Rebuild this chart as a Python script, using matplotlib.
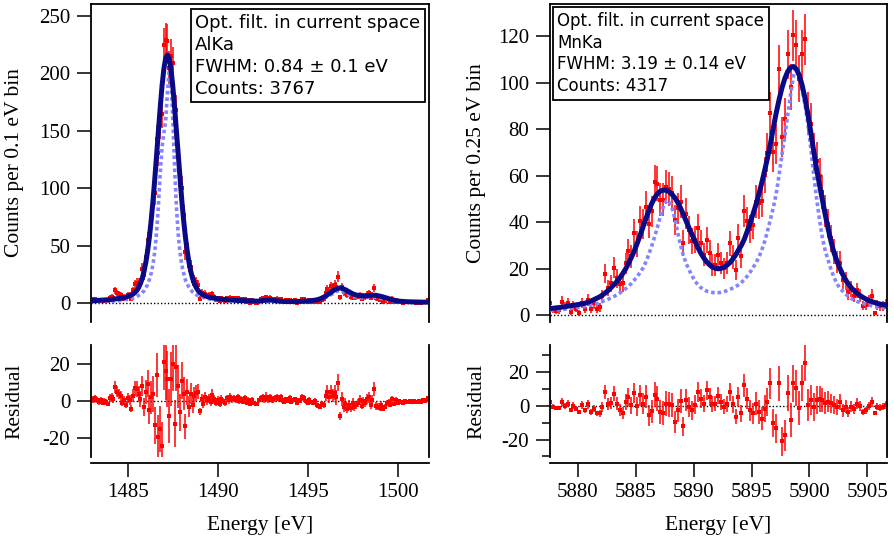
import numpy as np
import matplotlib
matplotlib.use('Agg')
import matplotlib.pyplot as plt

plt.rcParams['font.family'] = 'Liberation Serif'
plt.rcParams['axes.unicode_minus'] = False

# %% AlKa, 0.1 eV bins
al_energy = np.round(np.arange(1483.0, 1501.75, 0.1), 2)
al_fit = [
    2.0, 2.0, 2.1, 2.2, 2.3, 2.4, 2.5, 2.6, 2.7, 2.8,
    3.0, 3.1, 3.3, 3.5, 3.7, 3.9, 4.2, 4.4, 4.7, 5.2,
    5.6, 6.2, 7.0, 7.9, 9.2, 11.0, 13.5, 16.9, 21.4, 27.5,
    35.3, 45.3, 57.6, 72.4, 89.4, 108.5, 129.0, 150.0, 170.4, 188.8,
    203.5, 213.0, 216.0, 213.0, 203.5, 188.8, 170.4, 150.0, 129.0, 108.5,
    89.4, 72.4, 57.6, 45.3, 35.3, 27.5, 21.4, 16.9, 13.5, 11.0,
    9.2, 7.9, 7.0, 6.2, 5.6, 5.2, 4.7, 4.4, 4.2, 3.9,
    3.7, 3.5, 3.3, 3.1, 3.0, 2.8, 2.7, 2.6, 2.5, 2.4,
    2.3, 2.2, 2.1, 2.0, 2.0, 1.9, 1.9, 1.8, 1.8, 1.7,
    1.7, 1.6, 1.6, 1.6, 1.8, 2.0, 2.2, 2.4, 2.5, 2.5,
    2.4, 2.2, 2.0, 1.8, 1.6, 1.5, 1.4, 1.3, 1.3, 1.2,
    1.2, 1.2, 1.2, 1.2, 1.3, 1.3, 1.4, 1.4, 1.5, 1.6,
    1.7, 1.8, 2.0, 2.2, 2.4, 2.7, 3.1, 3.6, 4.3, 5.1,
    6.0, 7.1, 8.2, 9.4, 10.5, 11.5, 12.3, 12.8, 13.0, 12.8,
    12.2, 11.5, 10.6, 9.7, 8.8, 8.0, 7.4, 6.9, 6.6, 6.4,
    6.2, 6.2, 6.2, 6.3, 6.5, 6.6, 6.7, 6.7, 6.6, 6.3,
    6.0, 5.6, 5.2, 4.7, 4.2, 3.7, 3.2, 2.8, 2.4, 2.1,
    1.8, 1.6, 1.4, 1.3, 1.2, 1.1, 1.0, 1.0, 0.9, 0.9,
    0.8, 0.8, 0.8, 0.7, 0.7, 0.7, 0.7, 0.7,
]
al_resid = [
    1.0, 0.5, 1.5, 0.5, -0.5, 0.5, -1.0, 0.0, -0.5, -1.5,
    1.5, 2.0, 1.0, 7.5, 5.0, 4.0, 3.0, -1.0, 0.5, -2.0,
    1.5, 0.5, -4.0, 3.0, 7.0, 6.5, 4.0, 1.0, 8.0, -3.0,
    5.0, 9.5, -5.0, 2.0, 4.0, -13.0, 14.0, -19.0, -15.0, -24.0,
    21.0, 16.0, 12.0, -8.0, 12.0, 20.0, -12.0, 18.5, 8.0, -6.0,
    11.0, 4.0, -13.5, 5.0, -3.0, 4.0, -2.0, 3.0, 4.5, 5.0,
    -5.5, 1.0, -1.5, 2.0, 0.5, 1.5, -0.5, 3.5, 1.0, -1.0,
    0.5, -1.5, 1.0, 0.0, -1.0, 1.5, 0.5, 2.0, 1.0, 1.5,
    0.5, 2.0, 0.0, 1.0, -0.5, 1.5, -1.0, 0.5, -1.5, 0.5,
    -1.0, -1.3, -1.5, 0.5, 1.5, 2.0, 1.0, 2.5, 1.0, 2.0,
    0.5, 1.0, 1.5, 2.0, 1.0, 2.0, 0.5, -0.5, 1.0, 0.0,
    1.5, -0.5, 0.5, 1.0, -1.0, 0.5, 0.0, 2.0, 1.5, 0.0,
    -1.0, 0.5, -0.5, -1.0, 0.0, -2.0, -2.5, -3.0, -1.5, -2.0,
    3.0, 5.0, 2.0, 5.0, 3.0, 4.5, 2.0, 10.0, -8.0, 1.0,
    -3.0, -1.5, -4.0, -2.0, -3.5, -1.0, -3.0, -2.0, -1.0, 0.5,
    -2.5, 0.0, -1.0, 1.0, 2.0, -2.0, 0.5, 6.5, -2.5, -3.0,
    -3.5, -2.0, -4.0, -3.0, -1.0, -0.5, -2.0, 1.0, -1.5, 0.5,
    -1.0, 0.0, -0.5, -1.0, 0.0, -0.5, -0.5, 0.0, -0.5, 0.0,
    -0.5, -0.5, 0.0, -0.5, 0.5, 0.0, 0.5, 1.5,
]
# intrinsic line shape (dotted)
al_line_energy = [
    1483.0, 1483.5, 1484.0, 1484.5, 1485.0, 1485.3, 1485.5, 1485.7, 1485.9, 1486.1,
    1486.2, 1486.3, 1486.4, 1486.5, 1486.6, 1486.7, 1486.8, 1486.9, 1487.0, 1487.1,
    1487.2, 1487.3, 1487.4, 1487.5, 1487.6, 1487.7, 1487.8, 1487.9, 1488.0, 1488.1,
    1488.2, 1488.4, 1488.6, 1488.8, 1489.0, 1489.3, 1489.6, 1490.0, 1490.5, 1491.0,
    1492.0, 1493.0, 1494.0, 1494.5, 1495.0, 1495.4, 1495.8, 1496.1, 1496.4, 1496.6,
    1496.8, 1497.0, 1497.2, 1497.5, 1497.8, 1498.1, 1498.4, 1498.7, 1499.0, 1499.3,
    1499.6, 1500.0, 1500.5, 1501.0, 1501.7,
]
al_line = [
    1.0, 1.2, 1.5, 2.0, 3.2, 4.3, 5.5, 7.5, 10.5, 16.0,
    20.5, 26.0, 34.0, 45.0, 62.0, 85.0, 113.0, 135.0, 148.0, 158.0,
    183.0, 203.0, 196.0, 160.0, 118.0, 84.0, 60.0, 44.0, 33.0, 26.0,
    20.0, 13.5, 9.5, 7.2, 5.6, 4.2, 3.3, 2.6, 2.1, 1.7,
    1.3, 1.2, 1.0, 1.2, 1.5, 2.0, 3.5, 5.5, 8.0, 10.0,
    10.8, 9.8, 7.5, 5.5, 4.6, 4.4, 4.8, 5.0, 4.2, 3.0,
    2.0, 1.2, 0.9, 0.7, 0.6,
]

# %% MnKa, 0.25 eV bins
mn_energy = np.round(np.arange(5877.625, 5906.7, 0.25), 3)
mn_fit = [
    2.8, 2.9, 3.1, 3.2, 3.4, 3.6, 3.8, 4.0, 4.2, 4.4,
    4.6, 4.8, 5.1, 5.5, 6.0, 6.6, 7.2, 7.8, 8.6, 9.5,
    10.6, 11.8, 13.1, 14.4, 16.0, 17.8, 19.8, 22.2, 24.8, 27.6,
    30.8, 34.2, 37.8, 41.4, 44.8, 47.9, 50.4, 52.2, 53.3, 53.8,
    53.7, 53.1, 52.0, 50.5, 48.5, 46.0, 43.2, 40.2, 37.3, 34.5,
    31.7, 29.0, 26.6, 24.6, 22.9, 21.6, 20.6, 20.1, 19.9, 20.1,
    20.6, 21.4, 22.5, 24.0, 25.8, 28.0, 30.0, 32.6, 36.0, 39.6,
    43.4, 47.4, 51.8, 56.7, 62.0, 67.5, 73.5, 80.3, 86.8, 92.6,
    97.7, 101.8, 104.8, 106.6, 107.0, 105.9, 103.2, 98.9, 93.2, 86.3,
    78.6, 70.5, 62.8, 56.0, 49.5, 43.0, 37.0, 31.5, 26.8, 23.3,
    20.2, 17.5, 15.2, 13.3, 11.7, 10.4, 9.3, 8.4, 7.6, 6.9,
    6.3, 5.8, 5.4, 5.0, 4.7, 4.4, 4.2,
]
mn_line = [
    2.0, 2.1, 2.2, 2.3, 2.4, 2.5, 2.7, 2.8, 3.0, 3.1,
    3.3, 3.4, 3.6, 3.9, 4.2, 4.5, 4.9, 5.3, 5.8, 6.3,
    6.8, 7.4, 8.0, 8.7, 9.5, 10.4, 11.3, 12.4, 13.6, 15.0,
    16.6, 18.2, 20.2, 22.8, 26.0, 29.6, 33.5, 37.8, 42.3, 46.4,
    49.0, 49.3, 46.5, 41.5, 35.5, 30.0, 25.5, 22.0, 19.3, 16.8,
    14.6, 13.0, 11.8, 10.9, 10.3, 9.9, 9.7, 9.6, 9.6, 9.8,
    10.1, 10.5, 11.0, 11.6, 12.2, 13.0, 14.0, 15.2, 16.7, 18.4,
    20.3, 22.4, 24.8, 27.8, 31.5, 36.0, 41.0, 46.0, 52.0, 60.0,
    69.0, 77.0, 86.0, 95.0, 103.0, 107.0, 104.0, 97.0, 90.5, 82.0,
    71.5, 60.5, 50.0, 41.0, 33.0, 27.5, 23.5, 19.5, 16.2, 13.6,
    11.5, 10.3, 9.0, 8.0, 7.1, 6.4, 5.8, 5.4, 5.0, 4.6,
    4.3, 4.0, 3.7, 3.5, 3.2, 3.0, 2.8,
]
mn_resid = [
    2.4, -0.6, -1.2, -1.2, 2.4, 0.0, 1.4, -2.6, 0.0, -1.6,
    -3.6, 0.4, -2.6, 1.0, -3.6, -1.6, -4.5, -4.5, -0.6, 8.3,
    1.0, 1.8, 7.3, 1.4, -2.6, -4.1, 2.4, 5.3, 0.4, 7.7,
    -0.2, 6.3, 1.4, 5.3, -5.5, -3.2, 6.7, 4.3, -3.6, -4.1,
    1.4, 1.0, 0.4, -9.5, -2.6, 2.8, -12.0, 3.4, -0.6, -2.6,
    0.8, 8.3, 4.3, 1.4, 9.3, 5.3, 1.0, 1.4, 6.0, 2.4,
    -0.5, 1.0, 8.3, 1.0, -6.5, 5.3, -4.5, 12.2, 4.3, -2.6,
    -4.5, 1.4, -3.6, -7.5, -1.6, 2.4, 13.4, -10.3, -13.2, 13.4,
    -21.0, -17.5, 7.5, -8.3, 13.4, 10.5, -1.4, 13.4, 25.5, 0.5,
    3.5, -0.5, 3.5, 4.0, 3.5, 1.8, 2.4, 1.5, 0.5, -0.5,
    2.4, -2.6, -0.5, -3.6, -0.5, -2.0, 1.4, 0.0, -3.6, -2.6,
    -0.2, 2.4, -4.5, -0.5, -1.0, -0.5, 0.5,
]

al_text = 'Opt. filt. in current space\nAlKa\nFWHM: 0.84 ± 0.1 eV\nCounts: 3767'
mn_text = 'Opt. filt. in current space\nMnKa\nFWHM: 3.19 ± 0.14 eV\nCounts: 4317'

FIT_C = '#0a0a86'
LINE_C = '#8484ff'
W, H = 895, 539

fig = plt.figure(figsize=(W / 100, H / 100), dpi=100)


def px_axes(x0, y0, x1, y1):
    return fig.add_axes([x0 / W, 1 - y1 / H, (x1 - x0) / W, (y1 - y0) / H])


def style(ax, top):
    for s in ax.spines.values():
        s.set_linewidth(1.3)
    ax.tick_params(direction='out', length=10, width=1.1, pad=5, labelsize=15)
    ax.tick_params(which='minor', direction='out', length=5.5, width=1.1)
    ax.tick_params(axis='y', right=False)
    if top:
        ax.spines['bottom'].set_visible(False)
        ax.tick_params(axis='x', bottom=False, labelbottom=False)
    else:
        ax.spines['top'].set_visible(False)
        ax.spines['bottom'].set_position(('outward', 4))
    ax.axhline(0, color='black', ls=(0, (1, 1.5)), lw=1.0, zorder=1)


def panel(x0, x1, energy, fit, resid, line_e, line, xlim, ylim, rlim,
          yticks, rticks, ylabel, text, fs, tx, ty, ms, lab_px, minor=None):
    fit = np.array(fit)
    counts = fit + np.array(resid)
    err = np.sqrt(np.maximum(counts, 1.0))
    lab_x = -lab_px / (x1 - x0)

    ax = px_axes(x0, 4, x1, 322)
    style(ax, True)
    ax.errorbar(energy, counts, yerr=err, fmt='s', ms=ms, mew=0, color='red',
                ecolor='red', elinewidth=1.1, capsize=0, zorder=2)
    ax.plot(line_e, line, color=LINE_C, lw=2.6, ls=(0, (1, 0.8)), zorder=3)
    ax.plot(energy, fit, color=FIT_C, lw=3.6, zorder=4)
    ax.set_xlim(*xlim)
    ax.set_ylim(*ylim)
    ax.set_yticks(yticks)
    ax.set_ylabel(ylabel, fontsize=15.5)
    ax.yaxis.set_label_coords(lab_x, 0.5)
    ax.text(tx, ty, text, transform=ax.transAxes, ha='left', va='top',
            fontsize=fs, family='DejaVu Sans', linespacing=1.28, zorder=6,
            bbox=dict(boxstyle='square,pad=0.25', fc='white', ec='black', lw=1.3))

    axr = px_axes(x0, 345, x1, 457)
    style(axr, False)
    axr.errorbar(energy, resid, yerr=err, fmt='s', ms=ms, mew=0, color='red',
                 ecolor='red', elinewidth=1.1, capsize=0, zorder=2)
    axr.set_xlim(*xlim)
    axr.set_ylim(*rlim)
    axr.set_yticks(rticks)
    if minor is not None:
        axr.set_yticks(minor, minor=True)
    axr.set_ylabel('Residual', fontsize=15.5)
    axr.yaxis.set_label_coords(lab_x, 0.5)
    axr.set_xlabel('Energy [eV]', fontsize=15.5, labelpad=10)
    return ax, axr


ax1, ax1r = panel(91, 429, al_energy, al_fit, al_resid, al_line_energy, al_line,
                  (1482.95, 1501.75), (-16.6, 260.4), (-30.0, 30.2),
                  [0, 50, 100, 150, 200, 250], [-20, 0, 20],
                  'Counts per 0.1 eV bin', al_text, 13, 0.308, 0.969, 2.2, 67)
ax1r.set_xticks([1485, 1490, 1495, 1500])

ax2, ax2r = panel(550, 887, mn_energy, mn_fit, mn_resid, mn_energy, mn_line,
                  (5877.6, 5906.7), (-3.0, 133.9), (-30.3, 36.1),
                  [0, 20, 40, 60, 80, 100, 120], [-20, 0, 20],
                  'Counts per 0.25 eV bin', mn_text, 12, 0.022, 0.976, 3.2, 64,
                  minor=[-30, -10, 10, 30])
ax2r.set_xticks([5880, 5885, 5890, 5895, 5900, 5905])

fig.savefig('out.png', dpi=100)
